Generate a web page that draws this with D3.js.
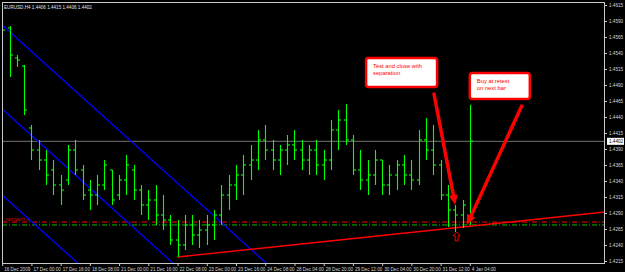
<!DOCTYPE html>
<html><head><meta charset="utf-8">
<script src="https://cdn.jsdelivr.net/npm/d3@7"></script>
<style>body{margin:0;background:#000;overflow:hidden}svg{display:block}</style>
</head><body><svg id="c" width="625" height="272"></svg>
<script>
// ---- DATA (EURUSD H4, bar index 0 = 16 Dec 2009 08:00) ----
const opens  = [1.45838,1.45791,1.45322,1.45197,1.44228,1.43884,1.43728,1.43572,1.43338,1.43416,1.43884,1.43572,1.43259,1.43181,1.43338,1.43572,1.43181,1.43416,1.43572,1.43259,1.43025,1.43103,1.42869,1.42791,1.42478,1.42400,1.42713,1.42556,1.42634,1.42713,1.42869,1.43181,1.43338,1.43494,1.43650,1.43728,1.44041,1.43884,1.43728,1.43884,1.43963,1.43884,1.43728,1.43884,1.43650,1.43728,1.44197,1.44353,1.44041,1.43572,1.43416,1.43494,1.43728,1.43338,1.43494,1.43650,1.43494,1.43416,1.44041,1.43884,1.43650,1.43181,1.42947,1.42869,1.42791];
const highs  = [1.45931,1.45822,1.45369,1.45213,1.44275,1.44041,1.43884,1.43728,1.43494,1.43963,1.44041,1.43650,1.43416,1.43494,1.43728,1.43572,1.43494,1.43806,1.43650,1.43338,1.43259,1.43338,1.43181,1.42869,1.42791,1.42869,1.42869,1.42791,1.42869,1.42947,1.43338,1.43494,1.43650,1.43806,1.43963,1.44197,1.44275,1.44041,1.43963,1.44119,1.44197,1.44041,1.43963,1.44041,1.43884,1.44353,1.44509,1.44603,1.44119,1.43884,1.43728,1.43884,1.43728,1.43650,1.43728,1.43806,1.43728,1.44197,1.44384,1.44275,1.43728,1.43338,1.43025,1.43103,1.44588];
const lows   = [1.45338,1.45025,1.45181,1.44431,1.43728,1.43572,1.43338,1.43181,1.43025,1.43338,1.43494,1.43103,1.42947,1.43025,1.43259,1.43025,1.43103,1.43181,1.43103,1.42869,1.42791,1.42713,1.42634,1.42400,1.42213,1.42322,1.42400,1.42353,1.42400,1.42478,1.42713,1.42947,1.43103,1.43181,1.43416,1.43572,1.43728,1.43572,1.43494,1.43650,1.43728,1.43572,1.43494,1.43494,1.43416,1.43572,1.43884,1.43963,1.43494,1.43259,1.43181,1.43338,1.43181,1.43181,1.43259,1.43338,1.43259,1.43338,1.43728,1.43494,1.43103,1.42681,1.42603,1.42666,1.42713];
const closes = [1.45759,1.45369,1.45291,1.44509,1.43884,1.43728,1.43494,1.43338,1.43259,1.43884,1.43572,1.43181,1.43181,1.43338,1.43650,1.43103,1.43416,1.43650,1.43259,1.43025,1.43103,1.42869,1.42791,1.42478,1.42400,1.42713,1.42556,1.42634,1.42713,1.42869,1.43181,1.43338,1.43494,1.43650,1.43728,1.44041,1.43884,1.43728,1.43884,1.43963,1.43884,1.43728,1.43884,1.43650,1.43728,1.44197,1.44353,1.44041,1.43572,1.43416,1.43494,1.43728,1.43338,1.43494,1.43650,1.43494,1.43416,1.44041,1.43884,1.43650,1.43181,1.42947,1.42869,1.43025,1.44025];
const xTickIdx    = [0,4,8,12,16,20,24,28,32,36,40,44,48,52,56,60,64];
const xTickLabels = ["16 Dec 2009","17 Dec 00:00","17 Dec 16:00","18 Dec 08:00","21 Dec 00:00","21 Dec 16:00","22 Dec 08:00","23 Dec 00:00","23 Dec 16:00","24 Dec 08:00","28 Dec 04:00","28 Dec 20:00","29 Dec 12:00","30 Dec 04:00","30 Dec 20:00","31 Dec 12:00","4 Jan 04:00"];
const priceTicks  = [1.4615,1.4590,1.4565,1.4540,1.4515,1.4490,1.4465,1.4440,1.4415,1.4390,1.4365,1.4340,1.4315,1.4290,1.4265,1.4240,1.4215];
const title = "EURUSD,H4  1.4406 1.4415 1.4406 1.4402";
const bidPrice = 1.4402;
// drawn objects in data space [barIndex, price]
const channelLines = [[[0,1.45838],[40,1.41718]],[[0,1.44525],[40,1.40405]],[[0,1.43181],[40,1.39061]]];
const trendLine = [[24,1.42213],[82.5,1.42916]];
const orderLines = [{price:1.42759,color:"#ff0000",label:"#30770077 sl"},{price:1.42713,color:"#00c000",label:""}];
const callouts = [{idx:49.8,price:1.45322,w:71,h:29,lines:["Test and close with","separation"]},{idx:64.0,price:1.45088,w:60,h:26,lines:["Buy at retest","on next bar"]}];
const arrows = [[[59.1,1.44759],[62.0,1.43025]],[[71.1,1.44572],[63.6,1.42713]]];
const buyMark = {idx:62.2,price:1.42541};

// ---- CHART ----
const svg = d3.select("#c");
const L=2,R=605,T=2,B=264;
svg.append("rect").attr("width",625).attr("height",272).attr("fill","#000");
const x = d3.scaleLinear().domain([0,82.5]).range([2.2,605]);
const y = d3.scaleLinear().domain([1.4215,1.4615]).range([261,5]);
svg.append("defs").append("clipPath").attr("id","clip").append("rect").attr("x",L).attr("y",T).attr("width",R-L).attr("height",B-T);
const g = svg.append("g").attr("clip-path","url(#clip)");
const font = "Liberation Sans, Arial, sans-serif";

// bid line
g.append("line").attr("x1",L).attr("x2",R).attr("y1",y(bidPrice)).attr("y2",y(bidPrice)).attr("stroke","#909090").attr("stroke-width",0.8);
// order lines
orderLines.forEach(o=>{
  g.append("line").attr("x1",L).attr("x2",R).attr("y1",y(o.price)).attr("y2",y(o.price))
   .attr("stroke",o.color).attr("stroke-width",1).attr("stroke-dasharray","5,2,1,2");
  if(o.label) g.append("text").attr("x",4).attr("y",y(o.price)-1.5).attr("fill",o.color)
   .attr("font-family",font).attr("font-size",4.2).text(o.label);
});
// channel lines
channelLines.forEach(l=>{
  g.append("line").attr("x1",x(l[0][0])).attr("y1",y(l[0][1])).attr("x2",x(l[1][0])).attr("y2",y(l[1][1]))
   .attr("stroke","#0000ff").attr("stroke-width",1.3);
});
// trend line
g.append("line").attr("x1",x(trendLine[0][0])).attr("y1",y(trendLine[0][1])).attr("x2",x(trendLine[1][0])).attr("y2",y(trendLine[1][1]))
 .attr("stroke","#ff0000").attr("stroke-width",1.4);
// OHLC bars
const bars = g.append("g").attr("stroke","#00ff00").attr("stroke-width",1.1);
opens.forEach((o,i)=>{
  const cx = Math.round(x(i))+0.5;
  bars.append("line").attr("x1",cx).attr("x2",cx).attr("y1",y(highs[i])).attr("y2",y(lows[i]));
  bars.append("line").attr("x1",cx-2.5).attr("x2",cx).attr("y1",y(o)).attr("y2",y(o));
  bars.append("line").attr("x1",cx).attr("x2",cx+2.5).attr("y1",y(closes[i])).attr("y2",y(closes[i]));
});
// arrows
arrows.forEach(a=>{
  const x1=x(a[0][0]),y1=y(a[0][1]),x2=x(a[1][0]),y2=y(a[1][1]);
  const ang=Math.atan2(y2-y1,x2-x1), hl=10, hw=4.5;
  const bx=x2-hl*Math.cos(ang), by=y2-hl*Math.sin(ang);
  g.append("line").attr("x1",x1).attr("y1",y1).attr("x2",bx).attr("y2",by).attr("stroke","#ff0000").attr("stroke-width",3.5).attr("stroke-linecap","round");
  const px=-Math.sin(ang),py=Math.cos(ang);
  g.append("path").attr("d",`M${x2},${y2}L${bx+px*hw},${by+py*hw}L${bx-px*hw},${by-py*hw}Z`).attr("fill","#ff0000");
});
// buy mark (hollow up arrow)
{
  const cx=x(buyMark.idx), cy=y(buyMark.price);
  g.append("path").attr("d",`M${cx},${cy-4}L${cx+3.5},${cy}L${cx+1.5},${cy}L${cx+1.5},${cy+5}L${cx-1.5},${cy+5}L${cx-1.5},${cy}L${cx-3.5},${cy}Z`)
   .attr("fill","none").attr("stroke","#ff0000").attr("stroke-width",0.9);
}
// callouts
callouts.forEach(c=>{
  const bx=x(c.idx), by=y(c.price);
  g.append("rect").attr("x",bx).attr("y",by).attr("width",c.w).attr("height",c.h).attr("rx",2.5)
   .attr("fill","#fff").attr("stroke","#ff0000").attr("stroke-width",2.5);
  c.lines.forEach((t,k)=>g.append("text").attr("x",bx+7).attr("y",by+10+k*7.5).attr("fill","#ff0000")
   .attr("font-family",font).attr("font-size",5.8).text(t));
});
// frame
svg.append("rect").attr("x",L+0.5).attr("y",T+0.5).attr("width",R-L-1).attr("height",B-T-1).attr("fill","none").attr("stroke","#c8c8c8").attr("stroke-width",1);
// title
svg.append("text").attr("x",4).attr("y",9).attr("fill","#e0e0e0").attr("font-family",font).attr("font-size",4.6).text(title);
// right axis
const yAxis = d3.axisRight(y).tickValues(priceTicks).tickSize(2).tickFormat(d3.format(".4f"));
const ya = svg.append("g").attr("transform",`translate(${R},0)`).call(yAxis);
ya.select(".domain").remove();
ya.selectAll("line").attr("stroke","#c8c8c8");
ya.selectAll("text").attr("fill","#d8d8d8").attr("font-family",font).attr("font-size",4.6).attr("x",4);
// bid label
svg.append("rect").attr("x",R+2).attr("y",y(bidPrice)-3.5).attr("width",17).attr("height",7).attr("fill","#fff");
svg.append("text").attr("x",R+4).attr("y",y(bidPrice)+1.7).attr("fill","#000").attr("font-family",font).attr("font-size",4.6).text(d3.format(".4f")(bidPrice));
// bottom axis
const xAxis = d3.axisBottom(x).tickValues(xTickIdx).tickSize(2).tickFormat((d,i)=>xTickLabels[i]);
const xa = svg.append("g").attr("transform",`translate(0,${B})`).call(xAxis);
xa.select(".domain").remove();
xa.selectAll("line").attr("stroke","#c8c8c8");
xa.selectAll("text").attr("fill","#d8d8d8").attr("font-family",font).attr("font-size",4.6).attr("text-anchor","start").attr("dx",1.5).attr("y",3.5);
</script></body></html>
